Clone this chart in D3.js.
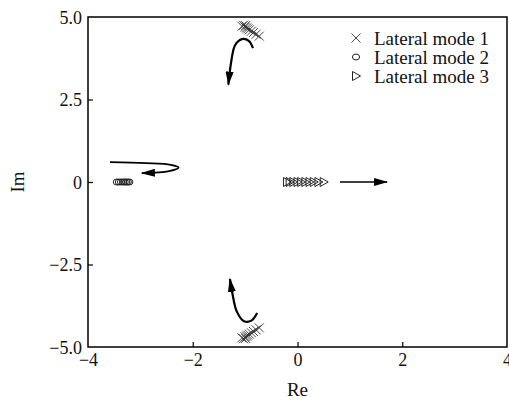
<!DOCTYPE html>
<html>
<head>
<meta charset="utf-8">
<script src="https://cdn.jsdelivr.net/npm/d3@7"></script>
<style>
  body { margin: 0; background: #fff; }
  svg text { font-family: "Liberation Serif", "Times New Roman", serif; fill: #111; }
</style>
</head>
<body>
<div id="chart"></div>
<script>
// eigenvalue points, [Re, Im]
var mode1 = [
  [-1.06, 4.72], [-1.03, 4.75], [-1.0, 4.69], [-0.99, 4.74], [-0.97, 4.67],
  [-0.95, 4.64], [-0.92, 4.61], [-0.88, 4.57], [-0.84, 4.53], [-0.79, 4.48], [-0.73, 4.42]
]
var mode1Low = mode1.map(function (d) { return [d[0], -d[1]] })
var mode2 = [
  [-3.45, 0], [-3.41, 0], [-3.37, 0], [-3.33, 0], [-3.3, 0],
  [-3.27, 0], [-3.24, 0], [-3.21, 0]
]
var mode3 = [
  [-0.2, 0], [-0.15, 0], [-0.08, 0], [0.0, 0], [0.07, 0],
  [0.15, 0], [0.23, 0], [0.31, 0], [0.4, 0], [0.5, 0]
]

// trend arrows
var arrowTop = [[-0.85, 4.06], [-0.93, 4.28], [-1.06, 4.33], [-1.19, 4.15], [-1.27, 3.6], [-1.32, 2.95]]
var arrowBottom = [[-0.77, -3.97], [-0.88, -4.2], [-1.02, -4.22], [-1.16, -3.92], [-1.24, -3.4], [-1.29, -2.94]]
var arrowMode2 = [[-3.58, 0.6], [-2.9, 0.57], [-2.42, 0.52], [-2.27, 0.44], [-2.45, 0.33], [-2.97, 0.27]]
var arrowMode3 = [[0.81, 0], [1.71, 0]]

var xTicks = [-4, -2, 0, 2, 4]
var yTicks = [5, 2.5, 0, -2.5, -5]
var legendLabels = ["Lateral mode 1", "Lateral mode 2", "Lateral mode 3"]

var width = 509, height = 401
var margin = { top: 17, right: 2, bottom: 54, left: 88 }

var svg = d3.select("#chart").append("svg")
  .attr("width", width)
  .attr("height", height)

var x = d3.scaleLinear().domain([-4, 4]).range([margin.left, width - margin.right])
var y = d3.scaleLinear().domain([-5, 5]).range([height - margin.bottom, margin.top])

// arrow head marker
svg.append("defs").append("marker")
  .attr("id", "head")
  .attr("viewBox", "0 0 14 8")
  .attr("refX", 13)
  .attr("refY", 4)
  .attr("markerWidth", 14)
  .attr("markerHeight", 8)
  .attr("markerUnits", "userSpaceOnUse")
  .attr("orient", "auto")
  .append("path")
    .attr("d", "M0,0 L14,4 L0,8 Z")
    .attr("fill", "#000")

// axes, ticks pointing inside
var xAxis = svg.append("g")
  .attr("transform", "translate(0," + y(-5) + ")")
  .call(d3.axisBottom(x).tickValues(xTicks).tickSizeInner(-5).tickSizeOuter(0)
    .tickPadding(5).tickFormat(function (d) { return d3.format("")(d).replace("-", "\u2013") }))
var yAxis = svg.append("g")
  .attr("transform", "translate(" + x(-4) + ",0)")
  .call(d3.axisLeft(y).tickValues(yTicks).tickSizeInner(-5).tickSizeOuter(0)
    .tickPadding(6).tickFormat(function (d) { return (d === 0 ? "0" : d3.format(".1f")(d)).replace("-", "\u2013") }))

;[xAxis, yAxis].forEach(function (g) {
  g.select(".domain").remove()
  g.selectAll("line").attr("stroke", "#000").attr("stroke-width", 1.2)
  g.selectAll("text").attr("font-size", 18).attr("fill", "#111")
    .style("font-family", "'Liberation Serif', serif")
})
xAxis.selectAll("text").attr("dy", "0.8em")
yAxis.selectAll("text").attr("dy", "0.35em")
// keep the ends of the frame clean
xAxis.selectAll(".tick line").filter(function (d) { return d === -4 || d === 4 }).remove()
yAxis.selectAll(".tick line").filter(function (d) { return d === 5 || d === -5 }).remove()

// frame
svg.append("rect")
  .attr("x", x(-4)).attr("y", y(5))
  .attr("width", x(4) - x(-4)).attr("height", y(-5) - y(5))
  .attr("fill", "none").attr("stroke", "#000").attr("stroke-width", 1.5)

svg.append("text")
  .attr("x", x(0)).attr("y", 396)
  .attr("text-anchor", "middle").attr("font-size", 19)
  .text("Re")
svg.append("text")
  .attr("transform", "translate(24," + y(0) + ") rotate(-90)")
  .attr("text-anchor", "middle").attr("font-size", 19)
  .text("Im")

// markers
function cross (g, cx, cy, s) {
  g.append("path")
    .attr("d", "M" + (cx - s) + "," + (cy - s) + "L" + (cx + s) + "," + (cy + s) +
      "M" + (cx - s) + "," + (cy + s) + "L" + (cx + s) + "," + (cy - s))
    .attr("stroke", "#333").attr("stroke-width", 0.9).attr("fill", "none")
}
function ring (g, cx, cy) {
  g.append("ellipse")
    .attr("cx", cx).attr("cy", cy).attr("rx", 3.6).attr("ry", 3)
    .attr("stroke", "#222").attr("stroke-width", 1).attr("fill", "none")
}
function tri (g, cx, cy) {
  g.append("path")
    .attr("d", "M" + (cx - 3.5) + "," + (cy - 4.5) + "L" + (cx + 4.5) + "," + cy + "L" + (cx - 3.5) + "," + (cy + 4.5) + "Z")
    .attr("stroke", "#222").attr("stroke-width", 1).attr("fill", "none")
}

var pts = svg.append("g")
mode1.concat(mode1Low).forEach(function (d) { cross(pts, x(d[0]), y(d[1]), 4.5) })
mode2.forEach(function (d) { ring(pts, x(d[0]), y(d[1])) })
mode3.forEach(function (d) { tri(pts, x(d[0]), y(d[1])) })

// arrows
var line = d3.line()
  .x(function (d) { return x(d[0]) })
  .y(function (d) { return y(d[1]) })
  .curve(d3.curveCatmullRom.alpha(0.5))

;[[arrowTop, 2.2], [arrowBottom, 2.2], [arrowMode2, 1.8], [arrowMode3, 1.6]].forEach(function (a) {
  svg.append("path")
    .attr("d", line(a[0]))
    .attr("fill", "none")
    .attr("stroke", "#000")
    .attr("stroke-width", a[1])
    .attr("marker-end", "url(#head)")
})

// legend
var legend = svg.append("g")
legendLabels.forEach(function (label, i) {
  var ly = 38 + i * 19
  if (i === 0) cross(legend, 356, ly, 4.5)
  if (i === 1) ring(legend, 356, ly)
  if (i === 2) tri(legend, 356, ly)
  legend.append("text")
    .attr("x", 374).attr("y", ly)
    .attr("dy", "0.35em")
    .attr("font-size", 19)
    .text(label)
})
</script>
</body>
</html>
